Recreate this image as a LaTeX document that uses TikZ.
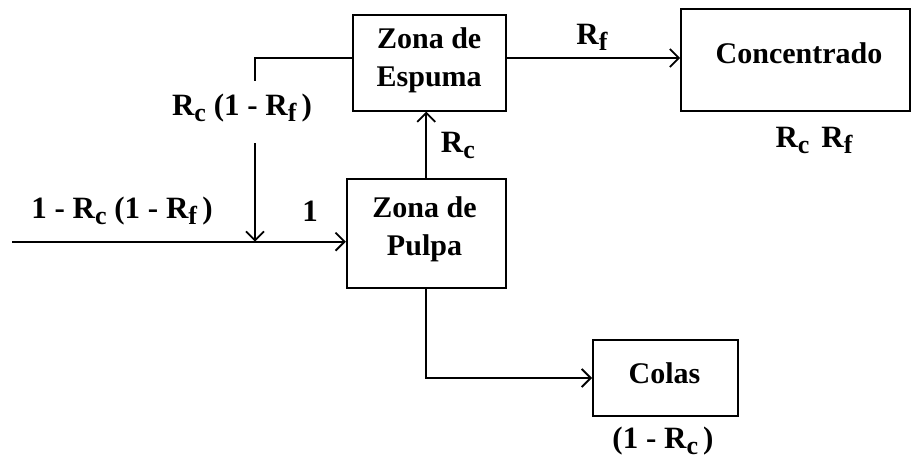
\documentclass[tikz,border=0pt]{standalone}
\usepackage{fontspec}
\setmainfont{Liberation Serif}
\usetikzlibrary{arrows.meta}
\newcommand{\sbs}[1]{\raisebox{-6pt}{\fontsize{26}{26}\selectfont #1}}
\begin{document}
\begin{tikzpicture}[x=1pt,y=-1pt,line width=1.8pt,
  box/.style={draw,line width=1.8pt},
  btxt/.style={align=center,inner sep=0pt,font=\fontsize{30}{38}\selectfont\bfseries},
  lbl/.style={font=\fontsize{31}{36}\selectfont\bfseries,inner sep=0pt},
  arr/.style={-{Straight Barb[length=9pt,width=18pt,line width=1.8pt]}}]
\useasboundingbox (0,0) rectangle (912,466);
\node[box,minimum width=153pt,minimum height=96pt] (esp) at (429.2,62.7) {};
\node[box,minimum width=229pt,minimum height=102pt] (conc) at (795.5,60) {};
\node[box,minimum width=159pt,minimum height=109pt] (pulpa) at (426.2,233.5) {};
\node[box,minimum width=145pt,minimum height=76pt] (colas) at (665.4,378) {};
\node[btxt] (tesp) at (429.2,60) {Zona de\\Espuma};
\node[btxt] (tconc) at (799,53) {Concentrado};
\node[btxt] (tpulpa) at (424.5,229) {Zona de\\Pulpa};
\node[btxt] (tcolas) at (664.5,373) {Colas};
\coordinate (m) at (0,58);
\coordinate (j) at (255,241.7);
\coordinate (in) at (12,241.7);
\coordinate (ca) at (255,81);
\coordinate (cb) at (255,143);
\draw[arr] (esp.east |- m) -- (conc.west |- m);
\draw (esp.west |- m) -| (ca);
\draw[arr] (cb) -- (j);
\draw[arr] (in) -- (pulpa.west |- in);
\draw[arr] (pulpa.north) -- (pulpa.north |- esp.south);
\draw[arr] (pulpa.south) |- (colas.west);
\node[lbl] (lrf) at (592,37) {R\sbs{f}};
\node[lbl] (lrcrf) at (814,140) {R\sbs{c}\hspace{12pt}R\sbs{f}};
\node[lbl,anchor=west] (lrc) at (440,145) {R\sbs{c}};
\node[lbl] (lrec) at (242,108) {R\sbs{c} (1 - R\sbs{f}\,)};
\node[lbl] (lfeed) at (122,211) {1 - R\sbs{c} (1 - R\sbs{f}\,)};
\node[lbl] (lone) at (310,211) {1};
\node[lbl] (lcol) at (663,441) {(1 - R\sbs{c}\,)};
\end{tikzpicture}
\end{document}
